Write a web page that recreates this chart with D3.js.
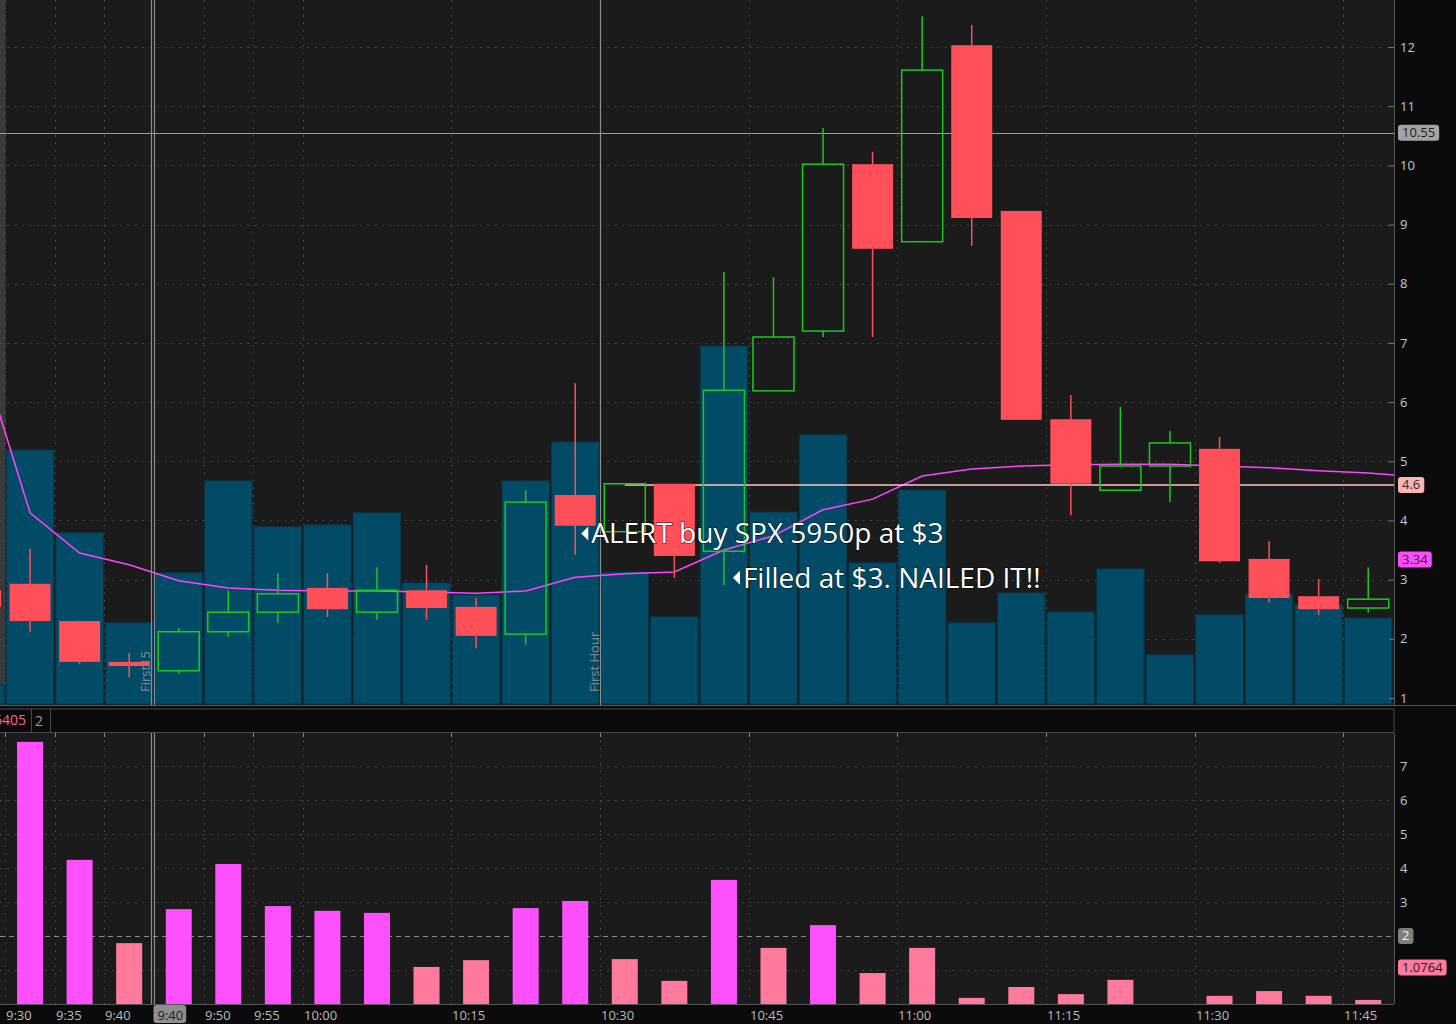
<!DOCTYPE html>
<html><head><meta charset="utf-8">
<script src="https://cdn.jsdelivr.net/npm/d3@7"></script>
<style>html,body{margin:0;padding:0;background:#0b0b0b;overflow:hidden}svg{display:block;font-family:"Open Sans","Noto Sans",sans-serif}</style>
</head><body><svg id="c" width="1456" height="1024"></svg>
<script>
// ---------- data ----------
const times = ["9:25","9:30","9:35","9:40","9:45","9:50","9:55","10:00","10:05","10:10","10:15","10:20","10:25","10:30","10:35","10:40","10:45","10:50","10:55","11:00","11:05","11:10","11:15","11:20","11:25","11:30","11:35","11:40","11:45"];
const openP  = [2.82,2.93,2.30,1.61,1.46,2.12,2.45,2.86,2.45,2.82,2.54,2.08,4.43,3.81,4.62,3.48,6.19,7.20,10.02,8.71,12.03,9.23,5.71,4.51,4.92,5.21,3.35,2.72,2.52];
const highP  = [2.95,3.52,2.31,1.76,2.18,2.82,3.11,3.11,3.21,3.25,2.69,4.51,6.32,4.62,4.62,8.20,8.11,10.63,10.23,12.52,12.37,9.23,6.12,5.92,5.51,5.41,3.65,3.01,3.21];
const lowP   = [2.50,2.12,1.57,1.35,1.41,2.03,2.27,2.37,2.32,2.32,1.84,1.90,3.42,3.81,3.03,2.91,6.19,7.10,7.10,8.71,8.64,5.70,4.09,4.51,4.31,3.28,2.61,2.40,2.44];
const closeP = [2.54,2.30,1.61,1.54,2.12,2.45,2.76,2.50,2.82,2.52,2.05,4.31,3.91,4.62,3.40,6.20,7.10,10.02,8.59,11.61,9.11,5.70,4.62,4.92,5.31,3.31,2.69,2.50,2.67];
const volume = [48,635,428,203,328,558,443,448,478,303,273,558,655,330,218,895,480,673,353,535,203,278,230,338,123,223,275,248,215];
const vwap   = [6.83,4.13,3.45,3.25,2.98,2.86,2.82,2.81,2.81,2.79,2.77,2.81,3.04,3.10,3.13,3.50,3.74,4.18,4.36,4.75,4.87,4.92,4.94,4.95,4.95,4.92,4.89,4.84,4.80];
const lowerValues = [null,7.71,4.24,1.79,2.79,4.12,2.88,2.74,2.68,1.09,1.29,2.82,3.03,1.32,0.68,3.65,1.65,2.32,0.91,1.65,0.18,0.50,0.29,0.71,0,0.24,0.38,0.24,0.12];
const lowerThreshold = 2;
const priceTicks = [1,2,3,4,5,6,7,8,9,10,11,12];
const lowerTicks = [0,1,2,3,4,5,6,7];
const timeLabels = ["9:30","9:35","9:40","9:50","9:55","10:00","10:15","10:30","10:45","11:00","11:15","11:30","11:45"];
const gridTimes = ["9:30","9:35","9:40","9:45","9:50","9:55","10:00","10:15","10:30","10:45","11:00","11:15","11:30","11:45"];
const cursorTime = "9:45", cursorLabel = "9:40";
const cursorPrice = 10.55;
const entryLevel = 4.6, entryFrom = "10:30";
const vwapLabel = 3.34;
const lowerLastLabel = 1.0764;
const firstMarkers = [{time:"9:45", text:"First15", dx:-3}, {time:"10:30", text:"First Hour", dx:0}];
const notes = [
  {time:"10:25", price:3.78, dx:6, text:"ALERT buy SPX 5950p at $3"},
  {time:"10:40", price:3.03, dx:9, text:"Filled at $3. NAILED IT!!"}
];

// ---------- layout ----------
const W = 1456, H = 1024;
const plotR = 1394;
const up = {top:0, bottom:705};
const lo = {top:733, bottom:1004};
const svg = d3.select("#c");

const x = d3.scaleBand().domain(times).range([-44.3, 1393]).paddingInner(0);
const step = x.step();
const cx = t => x(t) + step/2;
const y = d3.scaleLinear().domain([1,12]).range([698,47]);
const yVol = d3.scaleLinear().domain([0,1000]).range([704,304]);
const yLo = d3.scaleLinear().domain([0,7]).range([1004,766]);

const defs = svg.append("defs");
defs.append("clipPath").attr("id","cu").append("rect").attr("x",0).attr("y",up.top).attr("width",plotR).attr("height",up.bottom-up.top);
defs.append("clipPath").attr("id","cl").append("rect").attr("x",0).attr("y",lo.top).attr("width",plotR).attr("height",lo.bottom-lo.top);
defs.append("clipPath").attr("id","cax").append("rect").attr("x",0).attr("y",lo.top).attr("width",W-plotR).attr("height",lo.bottom-lo.top);

svg.append("rect").attr("width",W).attr("height",H).attr("fill","#0b0b0b");
svg.append("rect").attr("x",0).attr("y",up.top).attr("width",plotR).attr("height",up.bottom-up.top).attr("fill","#1b1b1b");
svg.append("rect").attr("x",0).attr("y",lo.top).attr("width",plotR).attr("height",lo.bottom-lo.top).attr("fill","#1b1b1b");

// ---------- upper panel ----------
const gu = svg.append("g").attr("clip-path","url(#cu)");
gu.append("rect").attr("x",0).attr("y",0).attr("width",5.5).attr("height",up.bottom).attr("fill","#3a3a3a");
gu.selectAll(".hg").data(priceTicks).join("line")
  .attr("x1",0).attr("x2",plotR).attr("y1",d=>Math.round(y(d))+0.5).attr("y2",d=>Math.round(y(d))+0.5)
  .attr("stroke","#505050").attr("stroke-dasharray","1.5,6");
gu.selectAll(".vg").data(gridTimes).join("line")
  .attr("x1",d=>Math.round(x(d))+0.5).attr("x2",d=>Math.round(x(d))+0.5).attr("y1",0).attr("y2",up.bottom)
  .attr("stroke","#505050").attr("stroke-dasharray","1.5,6");
gu.selectAll(".vol").data(times).join("rect")
  .attr("x",d=>x(d)+1).attr("width",step-2)
  .attr("y",(d,i)=>yVol(volume[i])).attr("height",(d,i)=>704-yVol(volume[i]))
  .attr("fill","#014b66").attr("stroke","#0a3446").attr("stroke-width",1);
firstMarkers.forEach(m=>{
  const xx = Math.round(x(m.time))+0.5+m.dx;
  gu.append("line").attr("x1",xx).attr("x2",xx).attr("y1",0).attr("y2",up.bottom).attr("stroke","#8c8c8c").attr("stroke-width",1.2);
  gu.append("text").attr("transform",`translate(${xx-2},692) rotate(-90)`).attr("font-size",13).attr("fill","#8a8a8a").text(m.text);
});
const cxl = Math.round(x(cursorTime))+0.5;
gu.append("line").attr("x1",0).attr("x2",plotR).attr("y1",Math.round(y(cursorPrice))+0.5).attr("y2",Math.round(y(cursorPrice))+0.5).attr("stroke","#9a9a9a").attr("stroke-width",1);
const vline = d3.line().x((d,i)=>cx(times[i])).y(d=>y(d));
gu.append("path").attr("d",vline(vwap)).attr("fill","none").attr("stroke","#ff44ff").attr("stroke-width",1.5);
gu.append("line").attr("x1",cx(times[times.length-1])).attr("x2",plotR).attr("y1",y(vwap[vwap.length-1])).attr("y2",y(vwap[vwap.length-1])+2).attr("stroke","#ff44ff").attr("stroke-width",1.5);
gu.append("line").attr("x1",cx(entryFrom)).attr("x2",plotR).attr("y1",y(entryLevel)).attr("y2",y(entryLevel)).attr("stroke","#ffc4c4").attr("stroke-width",1.5);
const bw = 41;
const red = "#ff5059", green = "#1ec81e";
times.forEach((t,i)=>{
  const o=openP[i], h=highP[i], l=lowP[i], c=closeP[i];
  const up_ = c>=o;
  const col = up_?green:red;
  const xc = cx(t);
  const top = y(Math.max(o,c)), bot = y(Math.min(o,c));
  if (y(h) < top-0.5) gu.append("line").attr("x1",xc).attr("x2",xc).attr("y1",y(h)).attr("y2",top).attr("stroke",col).attr("stroke-width",1.5);
  if (y(l) > bot+0.5) gu.append("line").attr("x1",xc).attr("x2",xc).attr("y1",bot).attr("y2",y(l)).attr("stroke",col).attr("stroke-width",1.5);
  if (up_) {
    gu.append("rect").attr("x",xc-bw/2).attr("y",top).attr("width",bw).attr("height",Math.max(bot-top,1)).attr("fill","none").attr("stroke",col).attr("stroke-width",1.5);
  } else {
    gu.append("rect").attr("x",xc-bw/2).attr("y",top).attr("width",bw).attr("height",Math.max(bot-top,2)).attr("fill",col);
  }
});
gu.append("line").attr("x1",cxl).attr("x2",cxl).attr("y1",0).attr("y2",up.bottom).attr("stroke","#8c8c8c").attr("stroke-width",1.2);
notes.forEach(n=>{
  const xx = cx(n.time)+n.dx, yy = y(n.price);
  gu.append("path").attr("d",`M${xx},${yy} L${xx+7},${yy-7} L${xx+7},${yy+7}Z`).attr("fill","#fff");
  gu.append("text").attr("x",xx+10).attr("y",yy+10).attr("font-size",28).attr("fill","#fff")
    .attr("stroke","rgba(0,0,0,0.55)").attr("stroke-width",1.5).attr("paint-order","stroke").text(n.text);
});

// ---------- separator band ----------
svg.append("line").attr("x1",0).attr("x2",W).attr("y1",705.5).attr("y2",705.5).attr("stroke","#555");
svg.append("rect").attr("x",-1).attr("y",709).attr("width",plotR+1).attr("height",23.5).attr("fill","#0a0a0a").attr("stroke","#4a4a4a").attr("stroke-width",1);
svg.append("line").attr("x1",31.5).attr("x2",31.5).attr("y1",709).attr("y2",732).attr("stroke","#4a4a4a");
svg.append("line").attr("x1",50.5).attr("x2",50.5).attr("y1",709).attr("y2",732).attr("stroke","#4a4a4a");
svg.append("text").attr("x",26).attr("y",725).attr("text-anchor","end").attr("font-size",14).attr("fill","#ff6688").text("6405");
svg.append("text").attr("x",35).attr("y",725.5).attr("font-size",14).attr("fill","#9a9a9a").text("2");

// ---------- lower panel ----------
const gl = svg.append("g").attr("clip-path","url(#cl)");
gl.selectAll(".hg").data(lowerTicks.filter(d=>d!==lowerThreshold)).join("line")
  .attr("x1",0).attr("x2",plotR).attr("y1",d=>Math.round(yLo(d))+0.5).attr("y2",d=>Math.round(yLo(d))+0.5)
  .attr("stroke","#505050").attr("stroke-dasharray","1.5,6");
gl.selectAll(".vg").data(gridTimes).join("line")
  .attr("x1",d=>Math.round(x(d))+0.5).attr("x2",d=>Math.round(x(d))+0.5).attr("y1",lo.top).attr("y2",lo.bottom)
  .attr("stroke","#505050").attr("stroke-dasharray","1.5,6");
gl.selectAll(".tk").data(gridTimes).join("line")
  .attr("x1",d=>Math.round(x(d))+0.5).attr("x2",d=>Math.round(x(d))+0.5).attr("y1",lo.top).attr("y2",lo.top+4)
  .attr("stroke","#888");
gl.append("line").attr("x1",0).attr("x2",plotR).attr("y1",Math.round(yLo(lowerThreshold))+0.5).attr("y2",Math.round(yLo(lowerThreshold))+0.5)
  .attr("stroke","#8a8a8a").attr("stroke-dasharray","5,4");
gl.append("line").attr("x1",cxl-3).attr("x2",cxl-3).attr("y1",lo.top).attr("y2",lo.bottom).attr("stroke","#8c8c8c").attr("stroke-width",1.2);
gl.append("line").attr("x1",cxl).attr("x2",cxl).attr("y1",lo.top).attr("y2",lo.bottom).attr("stroke","#8c8c8c").attr("stroke-width",1.2);
gl.selectAll(".lb").data(times.map((t,i)=>({t,v:lowerValues[i]})).filter(d=>d.v!==null && d.v>0)).join("rect")
  .attr("x",d=>cx(d.t)-13).attr("width",26)
  .attr("y",d=>yLo(d.v)).attr("height",d=>yLo(0)-yLo(d.v))
  .attr("fill",d=>d.v>lowerThreshold?"#ff50ff":"#ff7a9c");

// ---------- axes ----------
svg.append("line").attr("x1",plotR+0.5).attr("x2",plotR+0.5).attr("y1",0).attr("y2",up.bottom).attr("stroke","#555");
svg.append("line").attr("x1",plotR+0.5).attr("x2",plotR+0.5).attr("y1",lo.top).attr("y2",lo.bottom).attr("stroke","#555");
const ax1 = svg.append("g").attr("transform",`translate(${plotR},0)`)
  .call(d3.axisRight(y).tickValues(priceTicks).tickSizeInner(-5).tickSizeOuter(0).tickPadding(6).tickFormat(d3.format("d")));
const ax2 = svg.append("g").attr("transform",`translate(${plotR},0)`).attr("clip-path","url(#cax)")
  .call(d3.axisRight(yLo).tickValues(lowerTicks).tickSizeInner(-5).tickSizeOuter(0).tickPadding(6).tickFormat(d3.format("d")));
[ax1,ax2].forEach(a=>{
  a.select(".domain").remove();
  a.selectAll(".tick line").attr("stroke","#777");
  a.selectAll(".tick text").attr("fill","#c8c8c8").attr("font-size",13).attr("font-family","Open Sans");
});
ax2.selectAll(".tick").filter(d=>d===0).select("text").attr("dy","0.95em");
ax2.selectAll(".tick").filter(d=>d===1||d===2).select("text").remove();

function tag(yy, txt, fill, tcol){
  const g = svg.append("g");
  const t = g.append("text").attr("x",1402).attr("y",yy).attr("dy","0.34em").attr("font-size",13).attr("fill",tcol).text(txt);
  const w = t.node().getComputedTextLength();
  g.insert("rect","text").attr("x",1398).attr("y",yy-8).attr("width",w+8).attr("height",16).attr("rx",3).attr("fill",fill);
}
tag(y(cursorPrice), d3.format(".2f")(cursorPrice), "#a3a3a3", "#1c1c1c");
tag(y(entryLevel), String(entryLevel), "#ffb4b4", "#2a2a2a");
tag(y(vwapLabel), d3.format(".2f")(vwapLabel), "#ff4cff", "#2a2a2a");
tag(yLo(lowerThreshold), String(lowerThreshold), "#7e7e7e", "#f0f0f0");
tag(yLo(lowerLastLabel), String(lowerLastLabel), "#ff7a9c", "#1c1c1c");

// bottom time axis
svg.append("line").attr("x1",0).attr("x2",plotR).attr("y1",1004.5).attr("y2",1004.5).attr("stroke","#555");
svg.selectAll(".tl").data(timeLabels).join("text")
  .attr("x",d=>Math.round(x(d))+1).attr("y",1020).attr("font-size",13).attr("fill","#bcbcbc").text(d=>d);
{
  const g = svg.append("g");
  const t = g.append("text").attr("x",cxl+3).attr("y",1020).attr("font-size",13).attr("fill","#1c1c1c").text(cursorLabel);
  const w = t.node().getComputedTextLength();
  g.insert("rect","text").attr("x",cxl-1).attr("y",1005).attr("width",w+7).attr("height",18).attr("rx",3).attr("fill","#8e8e8e");
}
</script></body></html>
